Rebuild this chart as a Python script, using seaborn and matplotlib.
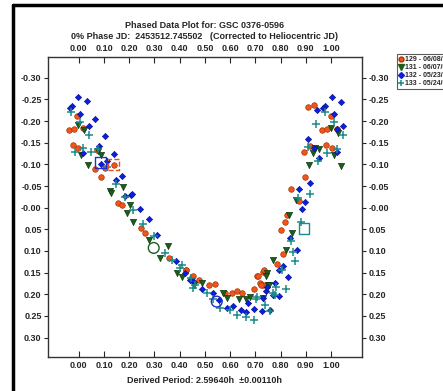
import numpy as np
import pandas as pd
import seaborn as sns
import matplotlib
matplotlib.use("Agg")
import matplotlib.pyplot as plt
from matplotlib.lines import Line2D

# 数据 (phase, magnitude) 按观测夜分开
phase_129 = [-0.008, -0.040, -0.019, 0.016, -0.024, -0.003, 0.071, 0.063, 0.103, 0.138, 0.088,
             0.156, 0.173, 0.245, 0.262, 0.358, 0.427, 0.447, 0.475,
             0.425, 0.454, 0.517, 0.540, 0.579, 0.606, 0.626, 0.646, 0.694, 0.708, 0.731, 0.718, 0.729, 0.785,
             0.840, 0.874, 0.827, 0.817, 0.800, 0.808, 0.734, 0.712, 0.721,
             0.933, 0.908, 0.999, 0.965, 0.985, 1.023, 0.917, 0.893, 0.980, 1.004, 0.897]
mag_129 = [-0.211, -0.179, -0.182, -0.183, -0.145, -0.139, -0.134, -0.090, -0.092, -0.099, -0.071,
           -0.011, -0.007, 0.048, 0.058, 0.116, 0.143, 0.160, 0.166,
           0.143, 0.157, 0.178, 0.176, 0.197, 0.196, 0.193, 0.197, 0.189, 0.157, 0.149, 0.174, 0.178, 0.129,
           -0.043, -0.015, 0.018, 0.034, 0.052, 0.106, 0.145, 0.159, 0.178,
           -0.238, -0.232, -0.211, -0.179, -0.182, -0.182, -0.143, -0.129, -0.145, -0.138, -0.072]

phase_131 = [-0.003, 0.019, 0.074, 0.087, 0.009, 0.035, 0.177, 0.124,
             0.126, 0.202, 0.192, 0.215, 0.279, 0.354, 0.321, 0.390, 0.409,
             0.456, 0.487, 0.570, 0.586, 0.636, 0.663, 0.679, 0.751, 0.769,
             0.861, 0.835, 0.844, 0.821, 0.747, 0.742, 0.755, 0.731,
             1.000, 1.027, 0.937, 0.952, 0.927, 1.012, 0.914, 1.038]
mag_131 = [-0.190, -0.179, -0.130, -0.122, -0.122, -0.099, -0.048, -0.038,
           -0.035, -0.006, 0.012, 0.034, 0.074, 0.088, 0.116, 0.151, 0.160,
           0.178, 0.174, 0.197, 0.209, 0.211, 0.211, 0.206, 0.178, 0.122,
           -0.018, 0.018, 0.058, 0.097, 0.152, 0.157, 0.178, 0.209,
           -0.185, -0.172, -0.138, -0.136, -0.126, -0.121, -0.099, -0.097]

phase_132 = [-0.003, 0.033, -0.027, -0.036, 0.005, 0.066, 0.042, 0.103, 0.078, 0.016, 0.138, 0.110,
             0.087, 0.172, 0.146, 0.206, 0.185,
             0.209, 0.242, 0.279, 0.311, 0.385, 0.440,
             0.421, 0.454, 0.487, 0.533, 0.557, 0.586, 0.612, 0.642, 0.665, 0.694, 0.725, 0.758,
             0.731, 0.742, 0.771, 0.672,
             0.917, 0.874, 0.898, 0.884, 0.837, 0.864, 0.811, 0.795, 0.831, 0.778, 0.747, 0.795,
             1.003, 1.038, 0.976, 0.969, 0.943, 1.012, 1.049, 1.025, 0.908, 0.933, 1.025, 0.954]
mag_132 = [-0.256, -0.246, -0.236, -0.231, -0.216, -0.206, -0.188, -0.166, -0.142, -0.126, -0.125, -0.107,
           -0.102, -0.074, -0.065, -0.030, -0.028,
           -0.031, 0.002, 0.026, 0.062, 0.124, 0.166,
           0.152, 0.170, 0.189, 0.197, 0.214, 0.232, 0.228, 0.236, 0.242, 0.234, 0.239, 0.236,
           0.209, 0.193, 0.201, 0.220,
           -0.057, -0.043, -0.013, 0.002, 0.070, 0.097, 0.134, 0.145, 0.160, 0.174, 0.183, 0.205,
           -0.256, -0.245, -0.236, -0.230, -0.225, -0.216, -0.188, -0.182, -0.159, -0.138, -0.129, -0.115]

phase_133 = [-0.032, 0.004, 0.042, 0.016, -0.017, 0.048, 0.077, 0.112, 0.147, 0.183,
             0.215, 0.253, 0.298, 0.341, 0.368, 0.401, 0.443, 0.460,
             0.408, 0.454, 0.507, 0.533, 0.560, 0.599, 0.626, 0.663, 0.694, 0.702, 0.738, 0.758, 0.778,
             0.917, 0.870, 0.881, 0.840, 0.848, 0.857, 0.804, 0.771, 0.782, 0.821, 0.708,
             0.977, 1.011, 0.940, 1.046, 0.908, 1.023, 0.983, 0.950]
mag_133 = [-0.220, -0.199, -0.167, -0.137, -0.128, -0.129, -0.136, -0.093, -0.055, -0.025,
           0.005, 0.038, 0.066, 0.105, 0.120, 0.139, 0.162, 0.178,
           0.132, 0.185, 0.197, 0.212, 0.232, 0.236, 0.247, 0.252, 0.259, 0.212, 0.224, 0.239, 0.201,
           -0.032, -0.022, 0.034, 0.078, 0.103, 0.124, 0.145, 0.196, 0.183, 0.188, 0.206,
           -0.221, -0.199, -0.193, -0.168, -0.140, -0.136, -0.126, -0.107]

labels = ["129 - 06/08/05", "131 - 06/07/05", "132 - 05/23/05", "133 - 05/24/05"]

# 高亮的点 (空心)
hl_phase = [0.087, 0.138, 0.297, 0.547, 0.893]
hl_mag = [-0.104, -0.099, 0.093, 0.217, 0.048]

sns.set_style("white")
plt.rcParams['font.family'] = ['Liberation Sans', 'DejaVu Sans']
plt.rcParams['axes.unicode_minus'] = False

fig = plt.figure(figsize=(4.43, 3.91), dpi=100)
ax = fig.add_axes([0.108, 0.087, 0.709, 0.767])

df129 = pd.DataFrame({"phase": phase_129, "mag": mag_129})
df131 = pd.DataFrame({"phase": phase_131, "mag": mag_131})
df132 = pd.DataFrame({"phase": phase_132, "mag": mag_132})
df133 = pd.DataFrame({"phase": phase_133, "mag": mag_133})

sns.scatterplot(data=df129, x="phase", y="mag", ax=ax, marker="o", s=16,
                color="#F0561C", edgecolor="#A83200", linewidth=0.5, label=labels[0])
sns.scatterplot(data=df131, x="phase", y="mag", ax=ax, marker="v", s=20,
                color="#1C5E1C", edgecolor="#0E3A0E", linewidth=0.5, label=labels[1])
sns.scatterplot(data=df132, x="phase", y="mag", ax=ax, marker="D", s=10,
                color="#0C1EE0", edgecolor="#0A14A0", linewidth=0.5, label=labels[2])
sns.scatterplot(data=df133, x="phase", y="mag", ax=ax, marker="+", s=34,
                color="#1B8A8A", linewidth=1.1, label=labels[3])

# 空心标记
ax.scatter(hl_phase[0], hl_mag[0], marker="s", s=60, facecolors="none", edgecolors="#2030D0", linewidths=1)
ax.scatter(hl_phase[1], hl_mag[1], marker="s", s=60, facecolors="none", edgecolors="#E05020",
           linewidths=1, linestyle="--")
ax.scatter(hl_phase[2], hl_mag[2], marker="o", s=60, facecolors="none", edgecolors="#1C5E1C", linewidths=1)
ax.scatter(hl_phase[3], hl_mag[3], marker="o", s=60, facecolors="none", edgecolors="#2030D0", linewidths=1)
ax.scatter(hl_phase[4], hl_mag[4], marker="s", s=60, facecolors="none", edgecolors="#1B8A8A", linewidths=1)

ax.set_xlim(-0.123, 1.123)
ax.set_ylim(0.345, -0.348)
ax.set_xticks(np.arange(0, 1.01, 0.1))
ax.set_yticks(np.arange(-0.30, 0.301, 0.05))
ax.xaxis.set_major_formatter(plt.FormatStrFormatter("%.2f"))
ax.yaxis.set_major_formatter(plt.FormatStrFormatter("%.2f"))
ax.set_xlabel("")
ax.set_ylabel("")

ax.tick_params(axis="x", which="both", direction="in", top=True, bottom=True,
               labeltop=True, labelbottom=True, length=4, width=0.8, labelsize=6.5, pad=3)
ax.tick_params(axis="y", which="both", direction="out", left=True, right=True,
               labelleft=True, labelright=True, length=3, width=0.8, labelsize=6.5, pad=1.5)
for lab in ax.get_xticklabels() + ax.get_yticklabels():
    lab.set_fontweight("bold")
for sp in ax.spines.values():
    sp.set_color("#333333")
    sp.set_linewidth(1)

ax.get_legend().remove()
h = [Line2D([], [], marker="o", ls="", color="#F0561C", mec="#A83200", ms=3.5),
     Line2D([], [], marker="v", ls="", color="#1C5E1C", ms=4),
     Line2D([], [], marker="D", ls="", color="#0C1EE0", ms=3),
     Line2D([], [], marker="+", ls="", color="#1B8A8A", ms=5, mew=1.1)]
leg = fig.legend(h, labels, loc="upper left", bbox_to_anchor=(0.896, 0.862), fontsize=5,
                 frameon=True, fancybox=False, handlelength=0.6, handletextpad=0.3,
                 borderpad=0.3, labelspacing=0.15, borderaxespad=0)
leg.get_frame().set_edgecolor("#333333")
leg.get_frame().set_linewidth(0.8)
for t in leg.get_texts():
    t.set_fontweight("bold")

fig.text(0.462, 0.935, "Phased Data Plot for: GSC 0376-0596", ha="center", va="center",
         fontsize=6.5, fontweight="bold")
fig.text(0.462, 0.907, "0% Phase JD:  2453512.745502   (Corrected to Heliocentric JD)",
         ha="center", va="center", fontsize=6.5, fontweight="bold")
fig.text(0.462, 0.028, "Derived Period: 2.59640h  \u00b10.00110h", ha="center", va="center",
         fontsize=6.5, fontweight="bold")

# 黑色外框 (左、上)
fig.add_artist(Line2D([0.029, 0.029], [0, 0.988], color="black", lw=2.5, transform=fig.transFigure))
fig.add_artist(Line2D([0.029, 1.0], [0.988, 0.988], color="black", lw=2.5, transform=fig.transFigure))

fig.savefig("out.png", dpi=100)
